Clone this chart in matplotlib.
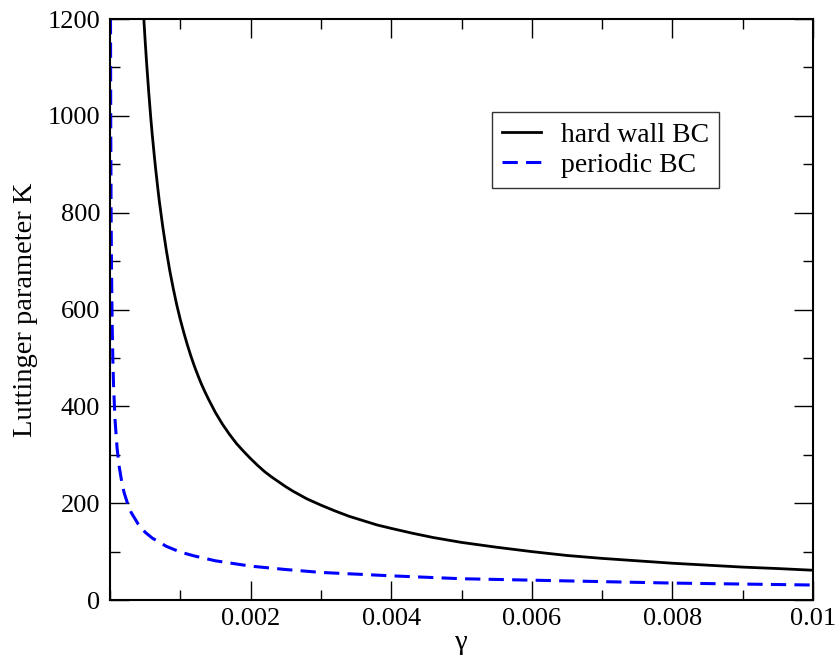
import matplotlib
matplotlib.use('Agg')
import matplotlib.pyplot as plt
from matplotlib.ticker import MultipleLocator

# values
gamma_hw = [0.00048, 0.0005, 0.00052, 0.00055, 0.00058, 0.0006, 0.00063, 0.00065, 0.00068,
            0.0007, 0.00075, 0.0008, 0.00085, 0.0009, 0.00095, 0.001, 0.00105, 0.0011,
            0.00115, 0.0012, 0.00125, 0.0013, 0.00135, 0.0014, 0.00145, 0.0015, 0.0016,
            0.0017, 0.0018, 0.0019, 0.002, 0.0021, 0.0022, 0.0023, 0.0024, 0.0025,
            0.0026, 0.0027, 0.0028, 0.003, 0.0032, 0.0034, 0.0036, 0.0038, 0.004,
            0.0043, 0.0046, 0.005, 0.0055, 0.006, 0.0065, 0.007, 0.0075, 0.008,
            0.0085, 0.009, 0.0095, 0.01]
K_hw = [1202, 1154, 1110, 1050, 995, 962, 917, 889, 850,
        825, 771, 723, 680, 643, 609, 579, 552, 527,
        504, 483, 464, 446, 430, 415, 401, 387, 363,
        342, 323, 307, 292, 278, 265, 254, 244, 234,
        225, 217, 209, 196, 184, 173, 164, 155, 148,
        138, 129, 119, 109, 100, 92, 86, 81, 76,
        72, 68, 65, 61.5]

gamma_pbc = [0.0000069, 0.00001, 0.000015, 0.00002, 0.00003, 0.00004, 0.00005, 0.00007,
             0.0001, 0.00013, 0.00017, 0.0002, 0.00025, 0.0003, 0.0004, 0.0005, 0.0006,
             0.0008, 0.001, 0.0012, 0.0015, 0.002, 0.0025, 0.003, 0.004, 0.005, 0.006,
             0.007, 0.008, 0.009, 0.01]
K_pbc = [1200, 990, 810, 700, 573, 497, 444, 375,
         314, 276, 241, 222, 199, 181, 157, 140, 128,
         111, 99, 91, 81, 70, 63, 57, 50, 44, 41,
         38, 35, 33, 31]

xticks = [0.002, 0.004, 0.006, 0.008, 0.01]
xticklabels = ['0.002', '0.004', '0.006', '0.008', '0.01']
yticks = [0, 200, 400, 600, 800, 1000, 1200]

plt.rcParams['font.family'] = ['Liberation Serif', 'DejaVu Serif']

fig = plt.figure(figsize=(8.38, 6.58), dpi=100)
ax = fig.add_axes([0.1313, 0.0881, 0.8389, 0.883])

ax.plot(gamma_hw, K_hw, color='black', lw=2.0, label='hard wall BC')
ax.plot(gamma_pbc, K_pbc, color='blue', lw=2.2, dashes=(5, 2.7), label='periodic BC')

ax.set_xlim(0, 0.01)
ax.set_ylim(0, 1200)
ax.set_xticks(xticks)
ax.set_xticklabels(xticklabels)
ax.set_yticks(yticks)
ax.xaxis.set_minor_locator(MultipleLocator(0.001))
ax.yaxis.set_minor_locator(MultipleLocator(100))
ax.tick_params(which='both', direction='in', top=True, right=True, labelsize=19, width=1.0)
ax.tick_params(which='major', length=14)
ax.tick_params(which='minor', length=7)
ax.tick_params(axis='y', pad=7)
ax.tick_params(axis='x', pad=6)
for s in ax.spines.values():
    s.set_linewidth(1.5)

ax.set_xlabel('γ', fontsize=20.5, labelpad=0)
ax.set_ylabel('Luttinger parameter K', fontsize=20.5, labelpad=7)

leg = ax.legend(loc='upper left', bbox_to_anchor=(0.543, 0.84), fontsize=20, frameon=True,
                fancybox=False, edgecolor='black', handlelength=1.4, handletextpad=0.7,
                borderpad=0.38, labelspacing=0.15, borderaxespad=0)
leg.get_frame().set_linewidth(1.0)

fig.savefig('out.png', dpi=100)
